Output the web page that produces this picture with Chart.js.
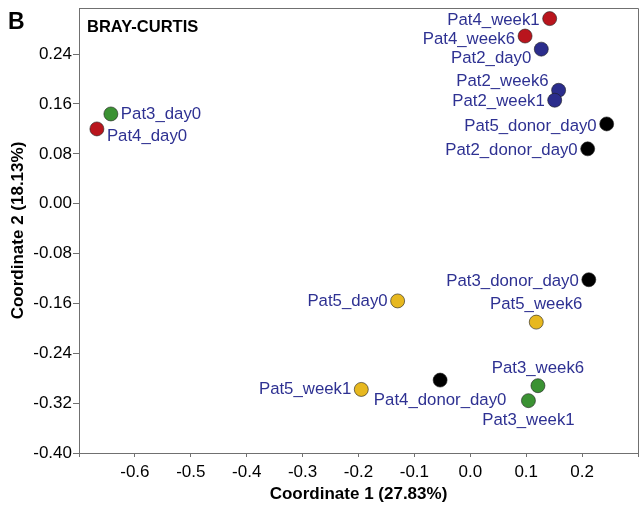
<!DOCTYPE html>
<html>
<head>
<meta charset="utf-8">
<script src="https://cdn.jsdelivr.net/npm/chart.js@4.4.0/dist/chart.umd.min.js"></script>
<style>
  html, body { margin: 0; padding: 0; background: #fff; }
  #wrap { width: 641px; height: 508px; }
</style>
</head>
<body>
<div id="wrap"><canvas id="pcoa" width="641" height="508"></canvas></div>
<script>
// PCoA coordinates
const sampleNames = [
  'Pat3_day0', 'Pat4_day0', 'Pat4_week1', 'Pat4_week6', 'Pat2_day0',
  'Pat2_week6', 'Pat2_week1', 'Pat5_donor_day0', 'Pat2_donor_day0',
  'Pat3_donor_day0', 'Pat5_day0', 'Pat5_week6', 'Pat4_donor_day0',
  'Pat5_week1', 'Pat3_week6', 'Pat3_week1'
];
const coord1 = [
  -0.643, -0.668, 0.142, 0.098, 0.127,
  0.158, 0.151, 0.244, 0.210,
  0.212, -0.130, 0.118, -0.054,
  -0.195, 0.121, 0.104
];
const coord2 = [
  0.144, 0.120, 0.297, 0.269, 0.248,
  0.182, 0.166, 0.128, 0.088,
  -0.122, -0.156, -0.190, -0.283,
  -0.298, -0.292, -0.316
];
const sampleGroup = [
  'Pat3', 'Pat4', 'Pat4', 'Pat4', 'Pat2',
  'Pat2', 'Pat2', 'donor', 'donor',
  'donor', 'Pat5', 'Pat5', 'donor',
  'Pat5', 'Pat3', 'Pat3'
];
const xTicks = [-0.7, -0.6, -0.5, -0.4, -0.3, -0.2, -0.1, 0.0, 0.1, 0.2, 0.3];
const yTicks = [-0.40, -0.32, -0.24, -0.16, -0.08, 0.00, 0.08, 0.16, 0.24];

// styling
const groupColors = {
  Pat2: '#2b2d8c',
  Pat3: '#3b9233',
  Pat4: '#b9151d',
  Pat5: '#e7b81f',
  donor: '#000000'
};
// where each label sits next to its point: [anchor, vertical shift]
const labelPlace = [
  ['right', 0], ['right', 7], ['left', 2], ['left', 3], ['left', 9],
  ['left', -9], ['left', 1], ['left', 2], ['left', 2],
  ['left', 2], ['left', 0], ['above', -18], ['below', 20],
  ['left', 0], ['above', -17], ['below', 20]
];
const labelColor = '#2e3192';
const frameColor = '#707070';
const fontFam = '"Liberation Sans", Arial, sans-serif';

const points = sampleNames.map((n, i) => ({ x: coord1[i], y: coord2[i] }));

const decorations = {
  id: 'decorations',
  afterDatasetsDraw(chart) {
    const ctx = chart.ctx;
    const area = chart.chartArea;
    ctx.save();
    // box around the plot
    ctx.strokeStyle = frameColor;
    ctx.lineWidth = 1;
    ctx.beginPath();
    ctx.moveTo(area.left + 0.5, area.top + 0.5);
    ctx.lineTo(area.right + 0.5, area.top + 0.5);
    ctx.lineTo(area.right + 0.5, area.bottom);
    ctx.stroke();

    // sample labels
    const meta = chart.getDatasetMeta(0);
    ctx.font = '16.8px ' + fontFam;
    ctx.fillStyle = labelColor;
    ctx.textBaseline = 'middle';
    meta.data.forEach((pt, i) => {
      const [anchor, dy] = labelPlace[i];
      let x = pt.x;
      if (anchor === 'right') { ctx.textAlign = 'left'; x += 10; }
      else if (anchor === 'left') { ctx.textAlign = 'right'; x -= 10; }
      else { ctx.textAlign = 'center'; }
      ctx.fillText(sampleNames[i], x, pt.y + dy);
    });

    // panel letter and distance name
    ctx.fillStyle = '#000';
    ctx.textAlign = 'left';
    ctx.textBaseline = 'alphabetic';
    ctx.font = 'bold 23px ' + fontFam;
    ctx.fillText('B', 8, 28.5);
    ctx.font = 'bold 16.5px ' + fontFam;
    ctx.fillText('BRAY-CURTIS', 87, 32.3);
    ctx.restore();
  }
};

new Chart(document.getElementById('pcoa'), {
  type: 'scatter',
  data: {
    datasets: [{
      data: points,
      pointRadius: 7,
      pointHoverRadius: 7,
      pointBackgroundColor: sampleGroup.map(g => groupColors[g]),
      pointBorderColor: 'rgba(30,30,30,0.6)',
      pointBorderWidth: 1
    }]
  },
  options: {
    responsive: false,
    animation: false,
    events: [],
    layout: { autoPadding: false, padding: { left: 0, top: 8, right: 3, bottom: 0 } },
    plugins: { legend: { display: false }, tooltip: { enabled: false } },
    scales: {
      x: {
        type: 'linear',
        min: -0.7,
        max: 0.3,
        afterBuildTicks: s => { s.ticks = xTicks.map(v => ({ value: v })); },
        afterFit: s => { s.height = 55; s.paddingLeft = 0; s.paddingRight = 0; },
        ticks: {
          color: '#000',
          font: { family: fontFam, size: 17 },
          padding: 5,
          maxRotation: 0,
          autoSkip: false,
          callback: v => (v <= -0.69 || v >= 0.29) ? '' : v.toFixed(1)
        },
        grid: { drawOnChartArea: false, tickLength: 4, color: frameColor },
        border: { color: frameColor },
        title: {
          display: true,
          text: 'Coordinate 1 (27.83%)',
          color: '#000',
          font: { family: fontFam, size: 17, weight: 'bold' },
          padding: { top: 0, bottom: 3 }
        }
      },
      y: {
        type: 'linear',
        min: -0.40,
        max: 0.314,
        afterBuildTicks: s => { s.ticks = yTicks.map(v => ({ value: v })); },
        afterFit: s => { s.width = 79; s.paddingTop = 0; s.paddingBottom = 0; },
        ticks: {
          color: '#000',
          font: { family: fontFam, size: 17 },
          padding: 1,
          autoSkip: false,
          callback: v => v.toFixed(2)
        },
        grid: { drawOnChartArea: false, tickLength: 6, color: frameColor },
        border: { color: frameColor },
        title: {
          display: true,
          text: 'Coordinate 2 (18.13%)',
          color: '#000',
          font: { family: fontFam, size: 17, weight: 'bold' },
          padding: { top: 8, bottom: 0 }
        }
      }
    }
  },
  plugins: [decorations]
});
</script>
</body>
</html>
